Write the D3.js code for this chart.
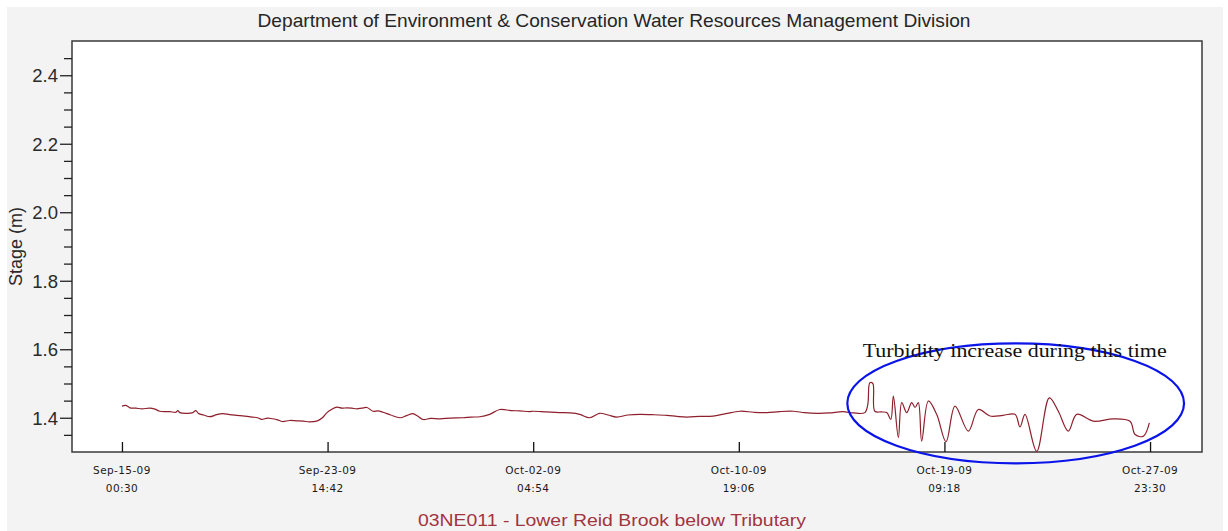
<!DOCTYPE html>
<html>
<head>
<meta charset="utf-8">
<script src="https://cdn.jsdelivr.net/npm/d3@7"></script>
<style>
  html, body { margin: 0; padding: 0; background: #ffffff; }
  svg { display: block; }
</style>
</head>
<body>
<svg id="chart" width="1228" height="531"></svg>
<script>
// ---------- data ----------
const chartTitle = "Department of Environment & Conservation Water Resources Management Division";
const stationLabel = "03NE011 - Lower Reid Brook below Tributary";
const yAxisLabel = "Stage (m)";
const noteText = "Turbidity increase during this time";

const timestamps = [
  "09-15 00:30","09-15 04:30","09-15 08:30","09-15 14:30","09-15 20:30","09-16 04:30","09-16 09:30","09-16 14:30",
  "09-16 20:30","09-17 00:30","09-17 06:30","09-17 08:30","09-17 10:30","09-17 18:30","09-17 23:30","09-18 02:30",
  "09-18 05:30","09-18 10:30","09-18 16:30","09-18 23:30","09-19 05:30","09-19 12:30","09-19 19:30","09-20 03:30",
  "09-20 11:30","09-20 16:30","09-20 20:30","09-21 02:30","09-21 07:30","09-21 12:30","09-21 17:30","09-22 00:30",
  "09-22 07:30","09-22 14:30","09-22 20:30","09-23 04:30","09-23 09:30","09-23 14:06","09-23 19:00","09-24 00:06",
  "09-24 05:00","09-24 10:06","09-24 15:00","09-24 20:12","09-25 01:00","09-25 06:12","09-25 12:12","09-25 17:00",
  "09-25 22:18","09-26 06:00","09-26 15:18","09-26 22:00","09-27 04:18","09-27 09:00","09-27 14:24","09-27 22:00",
  "09-28 07:24","09-28 18:00","09-29 06:30","09-29 14:30","09-29 23:30","09-30 08:30","09-30 19:30","10-01 06:30",
  "10-01 15:30","10-02 01:30","10-02 04:30","10-02 18:00","10-03 07:30","10-03 18:00","10-04 03:30","10-04 13:30",
  "10-04 23:30","10-05 08:00","10-05 16:30","10-06 04:00","10-06 16:00","10-07 04:00","10-07 19:06","10-08 05:00",
  "10-08 15:06","10-09 04:00","10-09 17:12","10-10 06:00","10-10 20:18","10-11 10:00","10-11 23:24","10-12 12:00",
  "10-13 01:30","10-13 13:00","10-14 01:30","10-14 14:00","10-15 03:30","10-15 14:00","10-16 01:30","10-16 04:30",
  "10-16 06:30","10-16 09:30","10-16 11:30","10-16 18:00","10-16 23:30","10-17 03:30","10-17 06:06","10-17 11:06",
  "10-17 14:30","10-17 19:30","10-18 00:30","10-18 03:48","10-18 07:06","10-18 10:30","10-18 17:12","10-19 01:30",
  "10-19 10:54","10-19 19:54","10-20 09:18","10-20 19:18","10-21 07:00","10-21 20:00","10-22 08:06","10-22 13:06",
  "10-22 18:06","10-23 05:48","10-23 18:30","10-24 03:30","10-24 13:30","10-24 22:00","10-25 14:36","10-26 10:42",
  "10-27 03:24","10-27 08:30","10-27 16:48","10-27 22:48"
];

const stageValues = [
  1.434,1.436,1.429,1.428,1.426,1.428,1.425,1.419,
  1.418,1.418,1.416,1.421,1.415,1.413,1.415,1.421,
  1.412,1.408,1.403,1.409,1.412,1.409,1.407,1.405,
  1.402,1.400,1.395,1.399,1.397,1.394,1.389,1.392,
  1.391,1.390,1.388,1.391,1.400,1.415,1.425,1.431,
  1.428,1.429,1.428,1.426,1.428,1.430,1.419,1.420,
  1.416,1.408,1.400,1.406,1.412,1.405,1.395,1.398,
  1.397,1.399,1.400,1.402,1.403,1.409,1.424,1.421,
  1.420,1.418,1.419,1.417,1.415,1.414,1.410,1.400,
  1.413,1.408,1.402,1.408,1.410,1.409,1.407,1.404,
  1.402,1.404,1.405,1.412,1.419,1.416,1.415,1.418,
  1.419,1.415,1.413,1.414,1.418,1.414,1.415,1.440,
  1.502,1.500,1.419,1.417,1.415,1.395,1.463,1.342,
  1.444,1.415,1.444,1.430,1.444,1.332,1.449,1.410,
  1.330,1.434,1.361,1.424,1.405,1.407,1.410,1.373,
  1.410,1.302,1.458,1.419,1.361,1.410,1.390,1.397,
  1.390,1.351,1.346,1.385
];

const xTickDates  = ["09-15 00:30","09-23 14:42","10-02 04:54","10-10 19:06","10-19 09:18","10-27 23:30"];
const xTickLine1  = ["Sep-15-09","Sep-23-09","Oct-02-09","Oct-10-09","Oct-19-09","Oct-27-09"];
const xTickLine2  = ["00:30","14:42","04:54","19:06","09:18","23:30"];
const xDomainDates = ["09-12 22:24","10-30 03:36"];

const yMajorTicks = [1.4, 1.6, 1.8, 2.0, 2.2, 2.4];
const yMinorTicks = [1.35,1.45,1.5,1.55,1.65,1.7,1.75,1.85,1.9,1.95,2.05,2.1,2.15,2.25,2.3,2.35,2.45];
const yDomain = [1.3, 2.5];

// annotation ellipse bounds (in data units)
const noteEllipseTime = ["10-15 07:54","10-29 09:36"];
const noteEllipseStage = [1.267, 1.617];
const noteTextStage = 1.577;

// ---------- drawing ----------
const parse = d3.timeParse("%Y-%m-%d %H:%M");
const toDate = s => parse("2009-" + s);

const svg = d3.select("#chart");
const W = 1228, H = 531;
const plot = { left: 72, right: 1202, top: 41, bottom: 452 };

// gray panel background
svg.append("rect").attr("x", 7).attr("y", 7).attr("width", 1216).attr("height", H - 7).attr("fill", "#f3f3f3");

const x = d3.scaleTime().domain(xDomainDates.map(toDate)).range([plot.left, plot.right]);
const y = d3.scaleLinear().domain(yDomain).range([plot.bottom, plot.top]);

// plot area
svg.append("rect")
  .attr("x", plot.left).attr("y", plot.top)
  .attr("width", plot.right - plot.left).attr("height", plot.bottom - plot.top)
  .attr("fill", "#ffffff").attr("stroke", "#3a3a3a").attr("stroke-width", 1.5);

// title
svg.append("text")
  .attr("x", W / 2).attr("y", 27)
  .attr("text-anchor", "middle")
  .attr("font-family", "'Liberation Sans', Arial, sans-serif")
  .attr("font-size", 19).attr("fill", "#262626")
  .attr("textLength", 713).attr("lengthAdjust", "spacingAndGlyphs")
  .text(chartTitle);

// y axis (major)
const yAxisMajor = d3.axisLeft(y).tickValues(yMajorTicks).tickSize(12).tickPadding(2).tickFormat(d3.format(".1f"));
const gy = svg.append("g").attr("transform", `translate(${plot.left},0)`).call(yAxisMajor);
gy.select(".domain").remove();
gy.selectAll(".tick line").attr("stroke", "#222").attr("stroke-width", 1.3);
gy.selectAll(".tick text")
  .attr("font-family", "'Liberation Sans', Arial, sans-serif")
  .attr("font-size", 18.5).attr("fill", "#2a2a2a").attr("dy", "0.36em");

// y axis (minor)
const yAxisMinor = d3.axisLeft(y).tickValues(yMinorTicks).tickSize(8).tickFormat("");
const gy2 = svg.append("g").attr("transform", `translate(${plot.left},0)`).call(yAxisMinor);
gy2.select(".domain").remove();
gy2.selectAll(".tick line").attr("stroke", "#222").attr("stroke-width", 1.3);

// y label
svg.append("text")
  .attr("transform", `translate(22,${(plot.top + plot.bottom) / 2}) rotate(-90)`)
  .attr("text-anchor", "middle")
  .attr("font-family", "'Liberation Sans', Arial, sans-serif")
  .attr("font-size", 18).attr("fill", "#2a2a2a")
  .text(yAxisLabel);

// x axis ticks (inside)
const tickDates = xTickDates.map(toDate);
const xAxis = d3.axisTop(x).tickValues(tickDates).tickSize(10).tickFormat("");
const gx = svg.append("g").attr("transform", `translate(0,${plot.bottom})`).call(xAxis);
gx.select(".domain").remove();
gx.selectAll(".tick line").attr("stroke", "#111").attr("stroke-width", 1.3);

// x tick labels (two lines)
const gxl = svg.append("g");
tickDates.forEach((d, i) => {
  const t = gxl.append("text")
    .attr("text-anchor", "middle")
    .attr("font-family", "'DejaVu Sans', Verdana, sans-serif")
    .attr("font-size", 10.5).attr("fill", "#1a1a1a")
    .attr("letter-spacing", 0.4);
  t.append("tspan").attr("x", x(d)).attr("y", plot.bottom + 22).text(xTickLine1[i]);
  t.append("tspan").attr("x", x(d)).attr("y", plot.bottom + 40).text(xTickLine2[i]);
});

// data line
const series = timestamps.map((t, i) => ({ t: toDate(t), v: stageValues[i] }));
const line = d3.line().x(d => x(d.t)).y(d => y(d.v)).curve(d3.curveCatmullRom.alpha(0.5));
svg.append("path")
  .datum(series)
  .attr("d", line)
  .attr("fill", "none")
  .attr("stroke", "#8e1f2c")
  .attr("stroke-width", 1.2)
  .attr("stroke-linejoin", "round");

// annotation ellipse
const ex0 = x(toDate(noteEllipseTime[0])), ex1 = x(toDate(noteEllipseTime[1]));
const ey0 = y(noteEllipseStage[1]), ey1 = y(noteEllipseStage[0]);
svg.append("ellipse")
  .attr("cx", (ex0 + ex1) / 2).attr("cy", (ey0 + ey1) / 2)
  .attr("rx", (ex1 - ex0) / 2).attr("ry", (ey1 - ey0) / 2)
  .attr("fill", "none").attr("stroke", "#0a14e8").attr("stroke-width", 2.2);

svg.append("text")
  .attr("x", (ex0 + ex1) / 2 - 1).attr("y", y(noteTextStage))
  .attr("text-anchor", "middle")
  .attr("font-family", "'Liberation Serif', 'Times New Roman', serif")
  .attr("font-size", 19).attr("fill", "#111")
  .attr("textLength", 304).attr("lengthAdjust", "spacingAndGlyphs")
  .text(noteText);

// station caption
svg.append("text")
  .attr("x", W / 2 - 2).attr("y", 526)
  .attr("text-anchor", "middle")
  .attr("font-family", "'Liberation Sans', Arial, sans-serif")
  .attr("font-size", 17).attr("fill", "#a23340")
  .attr("textLength", 388).attr("lengthAdjust", "spacingAndGlyphs")
  .text(stationLabel);
</script>
</body>
</html>
